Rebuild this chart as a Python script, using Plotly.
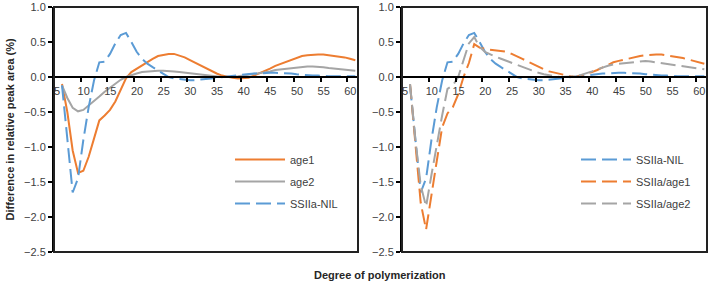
import plotly.graph_objects as go

# ---------------- data ----------------
dp = list(range(6, 62))  # degree of polymerization (categories 5..61 on axis)

age1 = [-0.10, -0.50, -1.05, -1.37, -1.34, -1.14, -0.88, -0.62, -0.55, -0.47,   # 6-15
        -0.35, -0.19, -0.02, 0.07, 0.12, 0.17, 0.21, 0.26, 0.30, 0.32,          # 16-25
        0.33, 0.33, 0.31, 0.28, 0.24, 0.20, 0.16, 0.12, 0.08, 0.05,             # 26-35
        0.02, 0.00, -0.01, -0.02, -0.02, -0.01, 0.02, 0.05, 0.09, 0.12,         # 36-45
        0.16, 0.19, 0.22, 0.25, 0.28, 0.30, 0.31, 0.32, 0.32, 0.32,             # 46-55
        0.31, 0.31, 0.30, 0.28, 0.26, 0.24]                                     # 56-61

age2 = [-0.12, -0.30, -0.44, -0.49, -0.47, -0.41, -0.34, -0.28, -0.21, -0.15,   # 6-15
        -0.09, -0.04, 0.00, 0.03, 0.05, 0.07, 0.08, 0.09, 0.09, 0.09,           # 16-25
        0.09, 0.08, 0.07, 0.06, 0.05, 0.04, 0.03, 0.02, 0.01, 0.00,             # 26-35
        0.00, 0.00, 0.00, 0.01, 0.02, 0.03, 0.05, 0.06, 0.07, 0.08,             # 36-45
        0.10, 0.11, 0.12, 0.13, 0.14, 0.15, 0.15, 0.15, 0.15, 0.14,             # 46-55
        0.13, 0.12, 0.12, 0.11, 0.10, 0.09]                                     # 56-61

ssiia_nil = [-0.12, -0.85, -1.65, -1.45, -0.90, -0.43, -0.05, 0.21, 0.22, 0.33,  # 6-15
             0.48, 0.60, 0.63, 0.50, 0.36, 0.26, 0.19, 0.14, 0.09, 0.04,         # 16-25
             0.00, -0.02, -0.03, -0.04, -0.045, -0.045, -0.04, -0.03, -0.02, -0.01,  # 26-35
             0.00, 0.00, 0.01, 0.02, 0.03, 0.04, 0.05, 0.05, 0.06, 0.06,         # 36-45
             0.06, 0.06, 0.05, 0.05, 0.04, 0.03, 0.03, 0.02, 0.02, 0.01,         # 46-55
             0.01, 0.01, 0.01, 0.01, 0.01, 0.01]                                 # 56-61

ssiia_age1 = [-0.10, -0.95, -1.80, -2.18, -1.72, -1.20, -0.72, -0.52, -0.43, -0.25,  # 6-15
              0.00, 0.20, 0.47, 0.42, 0.40, 0.39, 0.38, 0.37, 0.36, 0.33,           # 16-25
              0.30, 0.26, 0.22, 0.18, 0.14, 0.11, 0.08, 0.06, 0.04, 0.02,           # 26-35
              0.01, 0.00, 0.02, 0.04, 0.07, 0.10, 0.14, 0.18, 0.21, 0.23,           # 36-45
              0.25, 0.27, 0.29, 0.30, 0.31, 0.32, 0.32, 0.32, 0.31, 0.30,           # 46-55
              0.29, 0.27, 0.25, 0.23, 0.21, 0.19]                                   # 56-61

ssiia_age2 = [-0.10, -0.90, -1.55, -1.85, -1.40, -0.95, -0.55, -0.17, -0.12, 0.00,  # 6-15
              0.25, 0.48, 0.57, 0.43, 0.36, 0.32, 0.29, 0.26, 0.23, 0.20,          # 16-25
              0.17, 0.14, 0.11, 0.08, 0.06, 0.04, 0.02, 0.01, 0.00, 0.00,          # 26-35
              0.00, 0.01, 0.03, 0.05, 0.08, 0.11, 0.14, 0.16, 0.18, 0.19,          # 36-45
              0.20, 0.21, 0.22, 0.23, 0.23, 0.22, 0.21, 0.20, 0.19, 0.18,          # 46-55
              0.17, 0.16, 0.15, 0.14, 0.12, 0.11]                                  # 56-61

x_tick_labels = ["5", "10", "15", "20", "25", "30", "35", "40", "45", "50", "55", "60"]
x_tick_marks = [4.5 + 5 * i for i in range(12)]   # category boundaries every 5 categories
x_range = [4.5, 61.5]
y_range = [-2.5, 1.0]

ORANGE = "#ED7D31"
GRAY = "#A5A5A5"
BLUE = "#5B9BD5"
DASH = "15px,6px"
TXT = "#404040"

# ---------------- layout geometry ----------------
W, H = 709, 283
Lx = [54 / W, 358 / W]
Rx = [402 / W, 707 / W]
Yd = [1 - 252 / H, 1 - 7 / H]
zero_pos = Yd[0] + (0 - y_range[0]) / (y_range[1] - y_range[0]) * (Yd[1] - Yd[0])

fig = go.Figure()

def add(x, y, name, color, dash, xa, ya, legend, group):
    fig.add_trace(go.Scatter(
        x=x, y=y, name=name, mode="lines", xaxis=xa, yaxis=ya,
        line=dict(color=color, width=2, dash=dash),
        legend=legend, legendgroup=group, showlegend=True))

# left panel
add(dp, age1, "age1", ORANGE, "solid", "x", "y", "legend", "a")
add(dp, age2, "age2", GRAY, "solid", "x", "y", "legend", "b")
add(dp, ssiia_nil, "SSIIa-NIL", BLUE, DASH, "x", "y", "legend", "c")
# right panel
add(dp, ssiia_nil, "SSIIa-NIL", BLUE, DASH, "x2", "y2", "legend2", "d")
add(dp, ssiia_age1, "SSIIa/age1", ORANGE, DASH, "x2", "y2", "legend2", "e")
add(dp, ssiia_age2, "SSIIa/age2", GRAY, DASH, "x2", "y2", "legend2", "f")

tickfont = dict(family="Liberation Sans, Arial", size=11, color=TXT)

def xaxis_main(domain):
    return dict(domain=domain, range=x_range, anchor="free", position=zero_pos,
                tickmode="array", tickvals=x_tick_marks, ticktext=x_tick_labels,
                ticklabelshift=3, ticks="outside", ticklen=4, tickwidth=2,
                tickcolor="black", showline=True, linecolor="black", linewidth=2,
                showgrid=False, zeroline=False, tickfont=tickfont, automargin=False)

def xaxis_over(over, domain):
    return dict(domain=domain, range=x_range, anchor="free", position=zero_pos,
                overlaying=over, tickmode="array", tickvals=x_tick_marks,
                ticks="inside", ticklen=4, tickwidth=2, tickcolor="black",
                showticklabels=False, showline=False, showgrid=False, zeroline=False,
                automargin=False)

def yaxis(anchor):
    return dict(domain=Yd, range=y_range, anchor=anchor, dtick=0.5, tick0=0,
                tickformat=".1f", ticks="outside", ticklen=4, tickwidth=2,
                tickcolor="black", showline=True, linecolor="black", linewidth=2,
                showgrid=False, zeroline=False, tickfont=tickfont, automargin=False)

legfont = dict(family="Liberation Sans, Arial", size=11, color=TXT)

fig.update_layout(
    width=W, height=H, margin=dict(l=0, r=0, t=0, b=0, autoexpand=False),
    paper_bgcolor="white", plot_bgcolor="white",
    xaxis=xaxis_main(Lx), xaxis2=xaxis_main(Rx),
    xaxis3=xaxis_over("x", Lx), xaxis4=xaxis_over("x2", Rx),
    yaxis=yaxis("x"), yaxis2=yaxis("x2"),
    legend=dict(x=230 / W, y=1 - 145 / H, xanchor="left", yanchor="top",
                bgcolor="rgba(0,0,0,0)", font=legfont, traceorder="grouped",
                tracegroupgap=3, itemwidth=50),
    legend2=dict(x=576 / W, y=1 - 145 / H, xanchor="left", yanchor="top",
                 bgcolor="rgba(0,0,0,0)", font=legfont, traceorder="grouped",
                 tracegroupgap=3, itemwidth=50),
    shapes=[
        dict(type="rect", xref="x domain", yref="y domain", x0=0, x1=1, y0=0, y1=1,
             line=dict(color="#222222", width=2), layer="above"),
        dict(type="rect", xref="x2 domain", yref="y2 domain", x0=0, x1=1, y0=0, y1=1,
             line=dict(color="#222222", width=2), layer="above"),
    ],
    annotations=[
        dict(text="<b>Difference in relative peak area (%)</b>", xref="paper", yref="paper",
             x=10 / W, y=(Yd[0] + Yd[1]) / 2, textangle=-90, showarrow=False,
             xanchor="center", yanchor="middle",
             font=dict(family="Liberation Sans, Arial", size=11, color="#262626")),
        dict(text="<b>Degree of polymerization</b>", xref="paper", yref="paper",
             x=380 / W, y=1 - 275 / H, showarrow=False, xanchor="center", yanchor="middle",
             font=dict(family="Liberation Sans, Arial", size=11, color="#262626")),
    ],
)

fig.write_html("out.html", config={"displayModeBar": False},
               post_script="document.body.style.margin='0';document.body.style.overflow='hidden';")
